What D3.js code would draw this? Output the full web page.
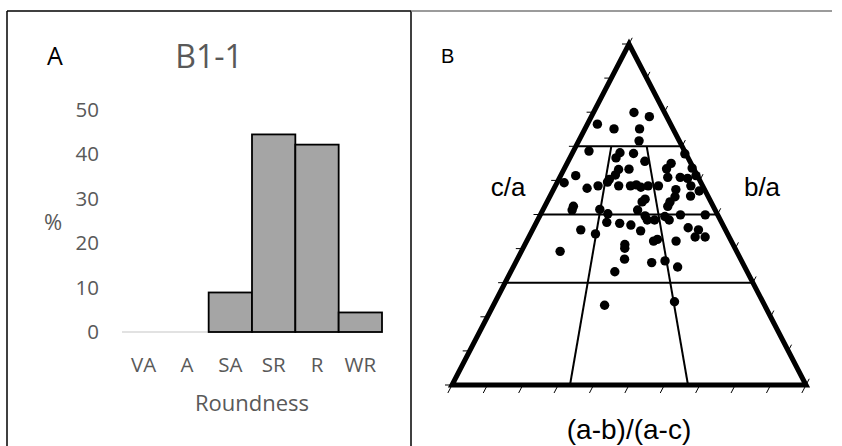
<!DOCTYPE html>
<html>
<head>
<meta charset="utf-8">
<script src="https://cdn.jsdelivr.net/npm/d3@7"></script>
<style>
  html, body { margin: 0; padding: 0; background: #fff; }
  svg { display: block; }
</style>
</head>
<body>
<svg id="chart" width="842" height="446"></svg>
<script>
// ---- Panel A: roundness histogram ----
const categories = ["VA", "A", "SA", "SR", "R", "WR"];
const percents = [0, 0, 8.9, 44.5, 42.2, 4.4];
const percentTicks = [0, 10, 20, 30, 40, 50];

// ---- Panel B: Sneed & Folk form triangle ----
// c/a (vertical position) and (a-b)/(a-c) (position across the row) for each clast
const cOverA = [
  0.799, 0.787, 0.765, 0.751, 0.751, 0.716, 0.686, 0.681, 0.679, 0.666,
  0.656, 0.678, 0.650, 0.634, 0.636, 0.632, 0.633, 0.616, 0.603, 0.614,
  0.593, 0.577, 0.584, 0.584, 0.584, 0.587, 0.580, 0.584, 0.584, 0.609,
  0.609, 0.606, 0.614, 0.584, 0.569, 0.573, 0.552, 0.554, 0.545, 0.537,
  0.537, 0.524, 0.524, 0.513, 0.515, 0.502, 0.513, 0.496, 0.484, 0.484,
  0.494, 0.484, 0.499, 0.499, 0.477, 0.474, 0.469, 0.452, 0.455, 0.443,
  0.461, 0.455, 0.434, 0.434, 0.422, 0.427, 0.422, 0.412, 0.401, 0.392,
  0.369, 0.359, 0.364, 0.346, 0.332, 0.234, 0.244, 0.595
];
const abOverAc = [
  0.57, 0.77, 0.12, 0.33, 0.62, 0.60, 0.14, 0.42, 0.54, 0.39,
  0.63, 0.99, 0.84, 0.79, 0.99, 0.42, 0.50, 0.40, 0.36, 0.11,
  0.05, 0.22, 0.29, 0.43, 0.51, 0.55, 0.58, 0.63, 0.70, 0.78,
  0.87, 0.92, 0.99, 0.92, 0.96, 0.81, 0.79, 0.89, 0.60, 0.58,
  0.75, 0.73, 0.17, 0.17, 0.33, 0.38, 0.55, 0.59, 0.60, 0.64,
  0.70, 0.72, 0.79, 0.93, 0.38, 0.45, 0.51, 0.56, 0.25, 0.33,
  0.81, 0.86, 0.83, 0.88, 0.62, 0.64, 0.73, 0.48, 0.48, 0.18,
  0.48, 0.60, 0.66, 0.71, 0.44, 0.41, 0.67, 0.35
];
const classLevels = [0.7, 0.5, 0.3];      // c/a class boundaries
const classDividers = [1 / 3, 2 / 3];     // (a-b)/(a-c) class boundaries
const edgeTicks = d3.range(0, 11).map(i => i / 10);

const svg = d3.select("#chart");
svg.append("rect").attr("width", 842).attr("height", 446).attr("fill", "#fff");

// ---- frames ----
const frame = svg.append("g").attr("fill", "none");
frame.append("line").attr("x1", 7).attr("y1", 11).attr("x2", 411).attr("y2", 11)
  .attr("stroke", "#000").attr("stroke-width", 1.5);
frame.append("line").attr("x1", 7).attr("y1", 11).attr("x2", 7).attr("y2", 446)
  .attr("stroke", "#000").attr("stroke-width", 1.5);
frame.append("line").attr("x1", 411).attr("y1", 11).attr("x2", 411).attr("y2", 446)
  .attr("stroke", "#000").attr("stroke-width", 1.5);
frame.append("line").attr("x1", 411).attr("y1", 11).attr("x2", 832).attr("y2", 11)
  .attr("stroke", "#7a7a7a").attr("stroke-width", 1.3);

// ---- Panel A ----
const fontA = "'Open Sans', 'Noto Sans', sans-serif";
const greyText = "#595959";
const x = d3.scaleBand().domain(categories).range([122, 382]).padding(0);
const y = d3.scaleLinear().domain([0, 50]).range([332, 110]);

const pa = svg.append("g");

pa.append("line")
  .attr("x1", x.range()[0]).attr("x2", x.range()[1])
  .attr("y1", y(0)).attr("y2", y(0))
  .attr("stroke", "#d9d9d9").attr("stroke-width", 1.5);

pa.append("g").selectAll("rect")
  .data(categories.map((c, i) => ({ c, v: percents[i] })).filter(d => d.v > 0))
  .join("rect")
  .attr("x", d => x(d.c))
  .attr("y", d => y(d.v))
  .attr("width", x.bandwidth())
  .attr("height", d => y(0) - y(d.v))
  .attr("fill", "#a5a5a5")
  .attr("stroke", "#000")
  .attr("stroke-width", 1.8);

const yAxis = pa.append("g")
  .attr("transform", `translate(${x.range()[0]},0)`)
  .call(d3.axisLeft(y).tickValues(percentTicks).tickSize(0).tickPadding(23));
yAxis.select(".domain").remove();
yAxis.selectAll("text")
  .attr("font-family", fontA).attr("font-size", 20.5).attr("fill", greyText);

const xAxis = pa.append("g")
  .attr("transform", `translate(0,${y(0)})`)
  .call(d3.axisBottom(x).tickSize(0).tickPadding(25));
xAxis.select(".domain").remove();
xAxis.selectAll("text")
  .attr("font-family", fontA).attr("font-size", 20.5).attr("fill", greyText);

pa.append("text").text("B1-1")
  .attr("x", 209).attr("y", 68).attr("text-anchor", "middle")
  .attr("font-family", fontA).attr("font-size", 32).attr("fill", greyText);
pa.append("text").text("A")
  .attr("x", 55).attr("y", 65).attr("text-anchor", "middle")
  .attr("font-family", fontA).attr("font-size", 25).attr("fill", "#000");
pa.append("text").text("%")
  .attr("x", 53).attr("y", 230).attr("text-anchor", "middle")
  .attr("font-family", fontA).attr("font-size", 22).attr("fill", greyText);
pa.append("text").text("Roundness")
  .attr("x", 252).attr("y", 411).attr("text-anchor", "middle")
  .attr("font-family", fontA).attr("font-size", 22).attr("fill", greyText);

// ---- Panel B ----
const fontB = "'Liberation Sans', Arial, sans-serif";
const apexX = 629;
const vy = d3.scaleLinear().domain([0, 1]).range([385, 44]);   // c/a -> vertical pixel
const half = d3.scaleLinear().domain([0, 1]).range([177, 0]);   // c/a -> half width of the row
const across = d3.scaleLinear().domain([0, 1]);                   // (a-b)/(a-c) across a row
function pos(ca, r) {
  const h = half(ca);
  return [across.range([apexX - h, apexX + h])(r), vy(ca)];
}

const pb = svg.append("g");

// class boundaries
const grid = pb.append("g").attr("stroke", "#000").attr("stroke-width", 2).attr("fill", "none");
classLevels.forEach(ca => {
  const a = pos(ca, 0), b = pos(ca, 1);
  grid.append("line").attr("x1", a[0]).attr("y1", a[1]).attr("x2", b[0]).attr("y2", b[1]);
});
classDividers.forEach(r => {
  const a = pos(0, r), b = pos(classLevels[0], r);
  grid.append("line").attr("x1", a[0]).attr("y1", a[1]).attr("x2", b[0]).attr("y2", b[1]);
});

// ticks along the three edges
const edgeLen = Math.hypot(half(0), vy(0) - vy(1));
const ux = half(0) / edgeLen, uy = (vy(0) - vy(1)) / edgeLen;
const ticks = pb.append("g").attr("stroke", "#000").attr("stroke-width", 1);
edgeTicks.forEach(k => {
  const l = pos(k, 0);
  ticks.append("line").attr("x1", l[0]).attr("y1", l[1]).attr("x2", l[0] - 7).attr("y2", l[1]);
  const r = pos(k, 1);
  ticks.append("line").attr("x1", r[0]).attr("y1", r[1])
    .attr("x2", r[0] + ux * 7).attr("y2", r[1] - uy * 7);
  const b = pos(0, k);
  ticks.append("line").attr("x1", b[0]).attr("y1", b[1])
    .attr("x2", b[0] - ux * 9).attr("y2", b[1] + uy * 9);
});

// triangle outline
pb.append("path")
  .attr("d", d3.line()([pos(0, 0), pos(0, 1), pos(1, 0.5)]) + "Z")
  .attr("fill", "none").attr("stroke", "#000")
  .attr("stroke-width", 5).attr("stroke-linejoin", "miter");

// clasts
pb.append("g").selectAll("circle")
  .data(cOverA.map((ca, i) => pos(ca, abOverAc[i])))
  .join("circle")
  .attr("cx", d => d[0]).attr("cy", d => d[1]).attr("r", 4.7)
  .attr("fill", "#000");

pb.append("text").text("B")
  .attr("x", 441).attr("y", 63)
  .attr("font-family", fontB).attr("font-size", 20).attr("fill", "#000");
pb.append("text").text("c/a")
  .attr("x", 508).attr("y", 196).attr("text-anchor", "middle")
  .attr("font-family", fontB).attr("font-size", 26).attr("fill", "#000");
pb.append("text").text("b/a")
  .attr("x", 762).attr("y", 196).attr("text-anchor", "middle")
  .attr("font-family", fontB).attr("font-size", 26).attr("fill", "#000");
pb.append("text").text("(a-b)/(a-c)")
  .attr("x", 629).attr("y", 439).attr("text-anchor", "middle")
  .attr("font-family", fontB).attr("font-size", 28).attr("fill", "#000");
</script>
</body>
</html>
